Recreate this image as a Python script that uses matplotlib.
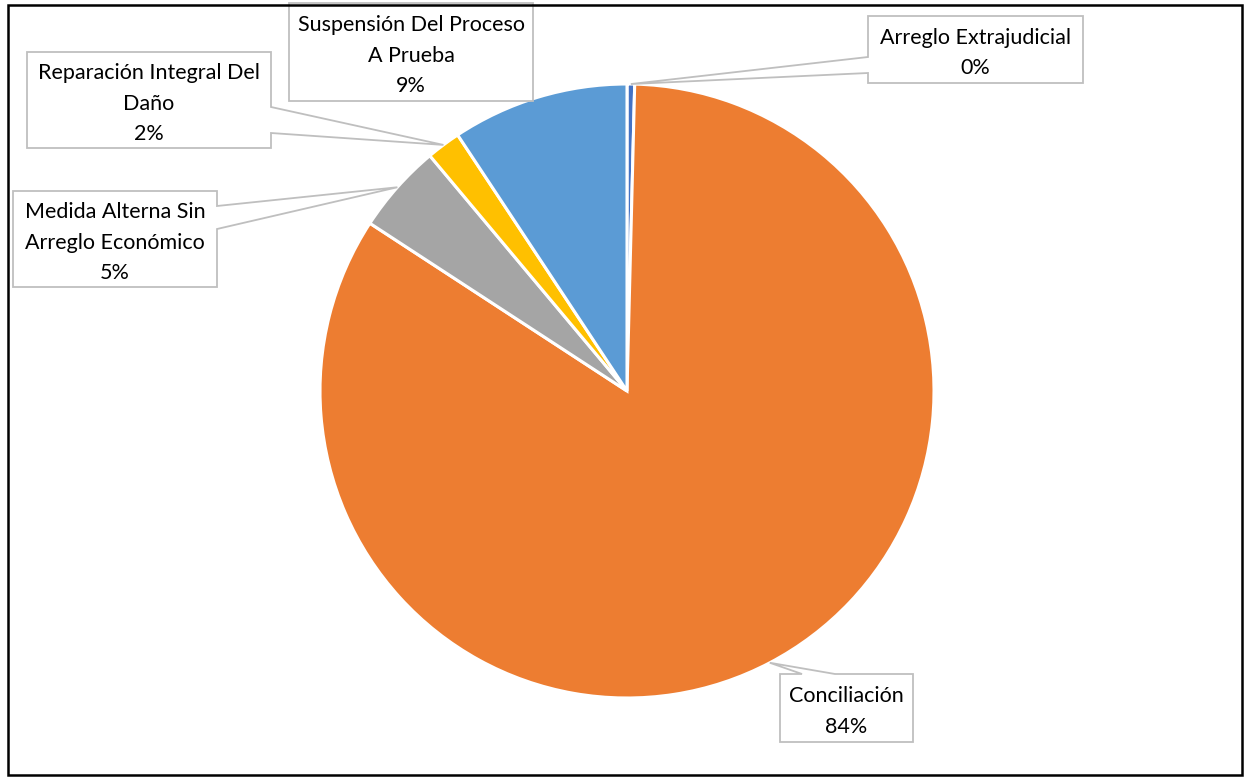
import numpy as np
import matplotlib.pyplot as plt
from matplotlib.patches import Polygon, Rectangle

W, H = 1246, 778

labels = ["Arreglo Extrajudicial", "Conciliación", "Medida Alterna Sin\nArreglo Económico",
          "Reparación Integral Del\nDaño", "Suspensión Del Proceso\nA Prueba"]
values = [0.4, 83.8, 4.7, 1.8, 9.3]
colors = ["#4472C4", "#ED7D31", "#A5A5A5", "#FFC000", "#5B9BD5"]

# callout boxes in pixel coords (left, top, right, bottom), pointer side and base points
boxes = [
    (868, 16, 1083, 83, "left", (57, 73)),
    (780, 674, 913, 742, "top", (802, 835)),
    (13, 191, 217, 287, "right", (206, 229)),
    (27, 52, 271, 148, "right", (107, 133)),
    (289, 3, 533, 101, None, None),
]

cx, cy, R = 627, 391, 307


def fy(y):
    return H - y


fig = plt.figure(figsize=(W / 100, H / 100), dpi=100)
ax = fig.add_axes([0, 0, 1, 1])

wedges, _ = ax.pie(values, colors=colors, startangle=90, counterclock=False,
                   center=(cx, fy(cy)), radius=R, frame=True,
                   wedgeprops=dict(edgecolor="white", linewidth=2.2))
ax.set_xlim(0, W)
ax.set_ylim(0, H)
ax.set_aspect("auto")
ax.axis("off")

total = sum(values)
for w, lab, v, box in zip(wedges, labels, values, boxes):
    l, t, r, b, side, base = box
    L, T, Rr, B = l, fy(t), r, fy(b)
    if side is None:
        verts = [(L, T), (Rr, T), (Rr, B), (L, B)]
    else:
        ang = np.deg2rad((w.theta1 + w.theta2) / 2)
        ap = (cx + R * np.cos(ang), fy(cy) + R * np.sin(ang))
        if side == "left":
            verts = [(L, T), (Rr, T), (Rr, B), (L, B), (L, fy(base[1])), ap, (L, fy(base[0]))]
        elif side == "right":
            verts = [(L, T), (Rr, T), (Rr, fy(base[0])), ap, (Rr, fy(base[1])), (Rr, B), (L, B)]
        else:
            verts = [(L, T), (base[0], T), ap, (base[1], T), (Rr, T), (Rr, B), (L, B)]
    ax.add_patch(Polygon(verts, closed=True, facecolor="white", edgecolor="#BFBFBF",
                         linewidth=1.3, zorder=3))
    pct = "{:.0f}%".format(v / total * 100)
    ax.text((L + Rr) / 2, (T + B) / 2 - 3.5, lab + "\n" + pct, ha="center", va="center",
            fontsize=15.5, family="Lato", linespacing=1.65, color="black", zorder=4)

# outer border
ax.add_patch(Rectangle((8, fy(775)), 1234, 770, facecolor="none", edgecolor="black",
                       linewidth=1.8, zorder=5))

fig.savefig("out.png", dpi=100, facecolor="white")
